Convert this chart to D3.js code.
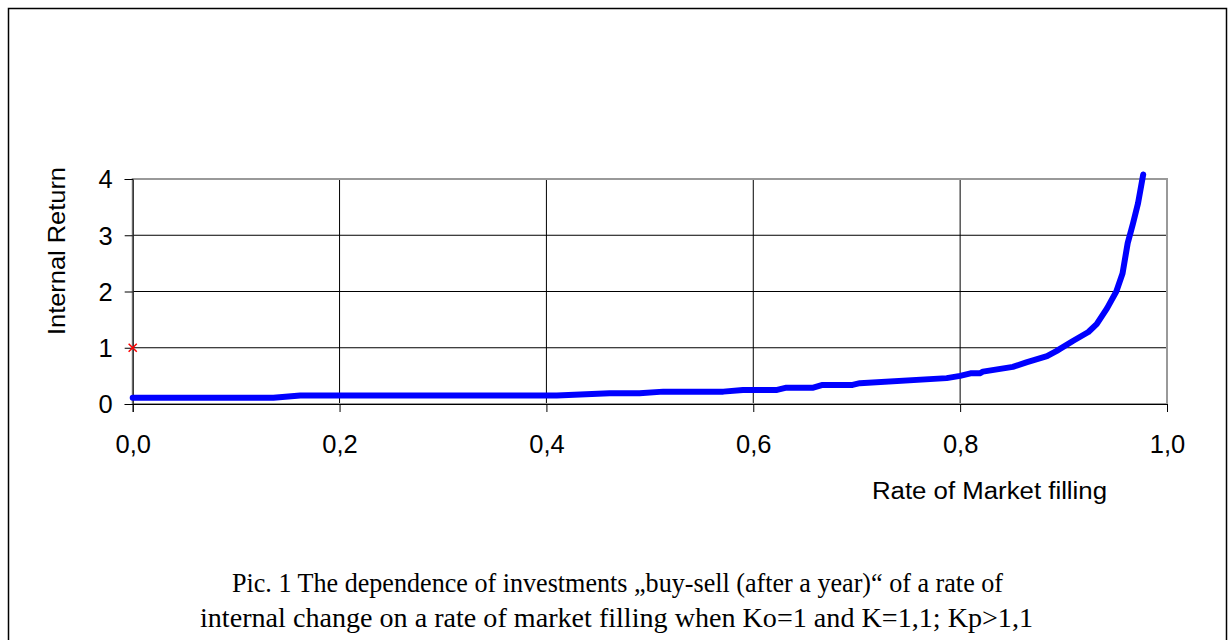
<!DOCTYPE html>
<html>
<head>
<meta charset="utf-8">
<script src="https://cdn.jsdelivr.net/npm/d3@7"></script>
<style>
  body { margin: 0; background: #fff; }
  svg { display: block; }
</style>
</head>
<body>
<svg id="chart" width="1229" height="640"></svg>
<script>
// data
var fillRate = [0, 0.136, 0.162, 0.41, 0.461, 0.49, 0.513, 0.571, 0.59, 0.623, 0.632, 0.658,
                0.667, 0.696, 0.703, 0.787, 0.8, 0.81, 0.819, 0.822, 0.851, 0.864, 0.884, 0.893,
                0.909, 0.924, 0.932, 0.942, 0.951, 0.957, 0.962, 0.967, 0.972, 0.977];
var internalReturn = [0.11, 0.11, 0.15, 0.15, 0.19, 0.19, 0.22, 0.22, 0.25, 0.25, 0.29, 0.29,
                      0.34, 0.34, 0.37, 0.46, 0.5, 0.545, 0.545, 0.575, 0.66, 0.74, 0.85, 0.94,
                      1.12, 1.28, 1.42, 1.7, 2.0, 2.32, 2.86, 3.2, 3.57, 4.08];
var starX = [0];
var starY = [1];
var xTicks = [0, 0.2, 0.4, 0.6, 0.8, 1.0];
var yTicks = [0, 1, 2, 3, 4];
var captionLines = ["Pic. 1 The dependence of investments \u201Ebuy-sell (after a year)\u201C of a rate of",
                    "internal change on a rate of market filling when Ko=1 and K=1,1; Kp>1,1"];

var svg = d3.select("#chart");
var plotL = 132.7, plotR = 1167, plotT = 179, plotB = 404;
var sans = "Liberation Sans, Arial, sans-serif";

// outer frame
svg.append("rect").attr("x", 8.5).attr("y", 8.5).attr("width", 1218).attr("height", 700)
   .attr("fill", "none").attr("stroke", "#000").attr("stroke-width", 1.5);

var x = d3.scaleLinear().domain([0, 1]).range([plotL, plotR]);
var y = d3.scaleLinear().domain([0, 4]).range([plotB, plotT]);

// grid
svg.append("g").selectAll("line").data(yTicks.slice(1, -1)).enter().append("line")
   .attr("x1", plotL).attr("x2", plotR).attr("y1", function(d){return y(d);}).attr("y2", function(d){return y(d);})
   .attr("stroke", "#000").attr("stroke-width", 1);
svg.append("g").selectAll("line").data(xTicks.slice(1, -1)).enter().append("line")
   .attr("y1", plotT).attr("y2", plotB).attr("x1", function(d){return x(d);}).attr("x2", function(d){return x(d);})
   .attr("stroke", "#000").attr("stroke-width", 1);

// plot area border
svg.append("rect").attr("x", plotL).attr("y", plotT).attr("width", plotR - plotL).attr("height", plotB - plotT)
   .attr("fill", "none").attr("stroke", "#999").attr("stroke-width", 2);

// axes
var xAxis = d3.axisBottom(x).tickValues(xTicks).tickSize(8).tickFormat(function(d){return d3.format(".1f")(d).replace(".", ",");});
var yAxis = d3.axisLeft(y).tickValues(yTicks).tickSize(8).tickFormat(d3.format("d"));

var gx = svg.append("g").attr("transform", "translate(0," + plotB + ")").call(xAxis);
var gy = svg.append("g").attr("transform", "translate(" + plotL + ",0)").call(yAxis);
[gx, gy].forEach(function(g){
  g.select(".domain").attr("stroke", "#000").attr("stroke-width", 1);
  g.selectAll(".tick line").attr("stroke", "#000");
  g.selectAll("text").attr("font-family", sans).attr("font-size", 25.5).attr("fill", "#000");
});
gx.selectAll("text").attr("dy", null).attr("y", 49);
gy.selectAll("text").attr("x", -20).attr("dy", "0.35em");

// line
var line = d3.line().x(function(d){return x(d[0]);}).y(function(d){return y(d[1]);});
var pts = d3.zip(fillRate, internalReturn);
svg.append("path").datum(pts).attr("d", line)
   .attr("fill", "none").attr("stroke", "#0000ff").attr("stroke-width", 6)
   .attr("stroke-linejoin", "round").attr("stroke-linecap", "round");

// star marker
svg.append("g").selectAll("path").data(d3.zip(starX, starY)).enter().append("path")
   .attr("transform", function(d){return "translate(" + x(d[0]) + "," + y(d[1]) + ")";})
   .attr("d", d3.symbol().type(d3.symbolTimes).size(45))
   .attr("fill", "none").attr("stroke", "#ff0000").attr("stroke-width", 1.5);

// axis titles
svg.append("text").attr("transform", "translate(65,251) rotate(-90)")
   .attr("text-anchor", "middle").attr("font-family", sans).attr("font-size", 24)
   .attr("textLength", 168).attr("lengthAdjust", "spacingAndGlyphs")
   .text("Internal Return");
svg.append("text").attr("x", 872).attr("y", 499)
   .attr("font-family", sans).attr("font-size", 23)
   .attr("textLength", 235).attr("lengthAdjust", "spacingAndGlyphs")
   .text("Rate of Market filling");

// caption
var capX = [232, 200], capW = [771, 833], capY = [592, 627];
svg.append("g").selectAll("text").data(captionLines).enter().append("text")
   .attr("x", function(d, i){return capX[i];}).attr("y", function(d, i){return capY[i];})
   .attr("font-family", "Liberation Serif, Times New Roman, serif").attr("font-size", 28)
   .attr("textLength", function(d, i){return capW[i];}).attr("lengthAdjust", "spacingAndGlyphs")
   .text(function(d){return d;});
</script>
</body>
</html>
